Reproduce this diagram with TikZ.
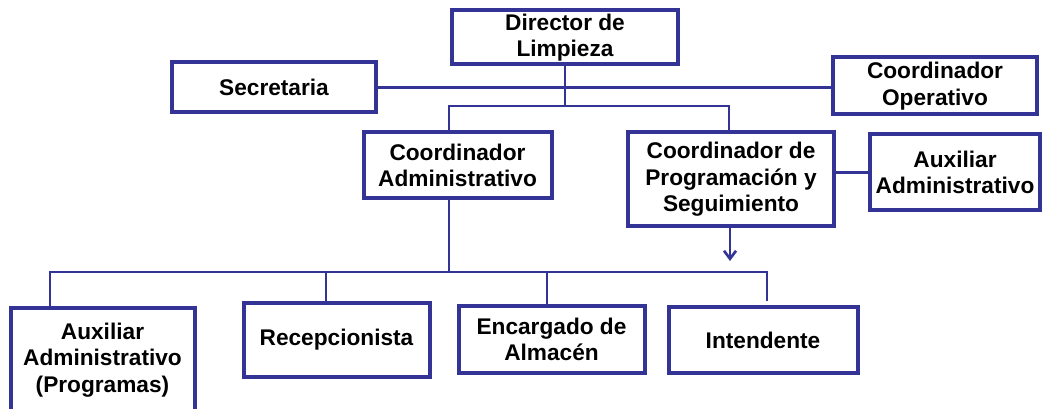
\documentclass[tikz,border=0pt]{standalone}
\usepackage{fontspec}
\setmainfont{Liberation Sans}
\usetikzlibrary{arrows.meta}
\definecolor{orgblue}{RGB}{52,52,150}

\begin{document}
\begin{tikzpicture}[
    x=0.75pt, y=-0.75pt,
    box/.style={draw=orgblue, line width=3pt, fill=white, inner sep=0pt,
        align=center, font=\fontsize{17}{20}\selectfont\bfseries},
    conn/.style={draw=orgblue, line width=2pt},
 ]
    \useasboundingbox (0,0) rectangle (1045,409);

    % top level
    \node[box, minimum width=170pt, minimum height=40.5pt] (dir) at (565,37.5) {Director de\\Limpieza};
    \node[box, minimum width=153.5pt, minimum height=37.5pt] (sec) at (274,87.5) {Secretaria};
    \node[box, minimum width=153.5pt, minimum height=42.75pt] (cop) at (935,86) {Coordinador\\Operativo};

    % coordinators
    \node[box, minimum width=141pt, minimum height=49.5pt] (cadm) at (457.5,165.5) {Coordinador\\Administrativo};
    \node[box, minimum width=155pt, minimum height=70.5pt] (cprog) at (731,179.5) {Coordinador de\\Programación y\\Seguimiento};
    \node[box, minimum width=128pt, minimum height=57pt] (aux) at (955,172.5) {Auxiliar\\Administrativo};

    % bottom row
    \node[box, minimum width=138pt, minimum height=78pt] (auxp) at (102.5,360) {Auxiliar\\Administrativo\\(Programas)};
    \node[box, minimum width=139.5pt, minimum height=54.75pt] (rec) at (336.5,340) {Recepcionista};
    \node[box, minimum width=139.5pt, minimum height=49.5pt] (enc) at (551.5,339.5) {Encargado de\\Almacén};
    \node[box, minimum width=141.75pt, minimum height=48.75pt] (int) at (763,340) {Intendente};

    % connectors
    \coordinate (top) at (565,106);
    \coordinate (la) at (449,106);
    \coordinate (ra) at (729,106);
    \draw[conn] (sec.east) -- (sec.east -| cop.west);
    \draw[conn] (dir.south) -- (top);
    \draw[conn] (la |- cadm.north) -- (la) -- (ra) -- (ra |- cprog.north);
    \draw[conn] (cprog.east |- aux.west) -- (aux.west);
    \coordinate (arr) at (730,261);
    \draw[conn, -{Straight Barb[length=6pt, width=9pt]}] (arr |- cprog.south) -- (arr);

    \coordinate (bus) at (449,272);
    \coordinate (b1) at (50,272);
    \coordinate (b2) at (326,272);
    \coordinate (b3) at (547,272);
    \coordinate (b4) at (767,272);
    \draw[conn] (bus |- cadm.south) -- (bus);
    \draw[conn] (b1 |- auxp.north) -- (b1) -- (b4) -- ([yshift=3pt]b4 |- int.north);
    \draw[conn] (b2) -- (b2 |- rec.north);
    \draw[conn] (b3) -- (b3 |- enc.north);
\end{tikzpicture}
\end{document}
